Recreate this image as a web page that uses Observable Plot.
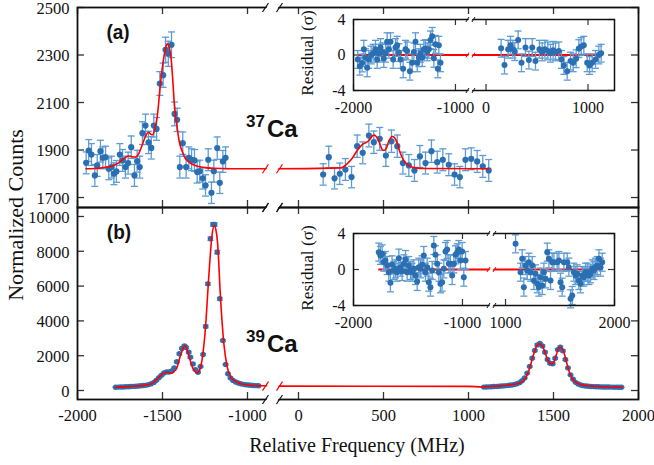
<!DOCTYPE html>
<html><head><meta charset="utf-8">
<script src="https://cdn.jsdelivr.net/npm/d3@7"></script>
<script src="https://cdn.jsdelivr.net/npm/@observablehq/plot@0.6"></script>
<style>
html,body{margin:0;padding:0;background:#fff;}
#chart{position:relative;width:654px;height:465px;overflow:hidden;background:#fff;}
#chart svg{position:absolute;left:0;top:0;}
.lab{position:absolute;white-space:nowrap;line-height:1;color:#111;}
</style></head><body><div id="chart"></div>
<script>
const W = 654, H = 465;

// ---------------- data ----------------
const xTickValues = [-2000, -1500, -1000, 0, 500, 1000, 1500, 2000];
const yTicksA = [1700, 1900, 2100, 2300, 2500];
const yTicksB = [0, 2000, 4000, 6000, 8000, 10000];
const insetATicks = [-2000, -1000, 0, 1000];
const insetBTicks = [-2000, -1000, 1000, 2000];
const residTicks = [-4, 0, 4];

// 37Ca spectrum (MHz, normalized counts, error)
const ca37Freq = [-1949,-1934,-1918,-1898,-1884,-1865,-1851,-1835,-1816,-1800,-1786,-1771,-1751,-1735,-1718,-1702,-1684,-1665,-1649,-1634,-1618,-1600,-1582,-1566,-1551,-1535,-1516,-1496,-1482,-1466,-1447,-1429,-1414,-1398,-1381,-1361,-1345,-1329,-1312,-1296,-1281,-1263,-1247,-1231,-1212,-1198,-1178,-1163,-1145,-1129,
  145,178,212,243,276,312,345,378,414,443,478,514,547,581,614,649,682,714,747,782,816,849,884,918,949,982,1016,1051,1084,1119];
const ca37Counts = [1846,1898,1881,1793,1835,1895,1867,1870,1821,1828,1800,1810,1881,1856,1828,1845,1912,1793,1853,1828,1971,2003,1932,1909,2003,1989,2180,2215,2322,2305,2343,2052,2027,1828,1929,1828,1867,1859,1856,1807,1811,1781,1751,1859,1720,1811,1908,1762,1852,1867,
  1797,1870,1781,1800,1818,1786,1916,1888,1961,1933,1947,1877,1937,1916,1845,1835,1814,1873,1845,1895,1849,1859,1838,1797,1786,1859,1863,1852,1831,1814];
const ca37Err = [46,46,46,46,46,46,46,46,46,46,46,46,46,46,46,46,47,46,46,46,48,48,47,47,48,48,50,51,53,53,54,50,49,46,47,46,46,46,46,46,46,45,45,46,45,46,47,45,46,46,
  45,46,45,45,46,45,47,46,48,47,48,46,47,47,46,46,46,46,46,47,46,46,46,45,45,46,46,46,46,46];
const ca37FitFreq = [-1950,-1900,-1850,-1800,-1760,-1730,-1700,-1680,-1660,-1640,-1620,-1600,-1582,-1568,-1558,-1545,-1531,-1512,-1492,-1478,-1470,-1460,-1450,-1440,-1430,-1414,-1400,-1384,-1370,-1355,-1330,-1300,-1250,-1200,-1100,-900,-150,250,290,316,345,375,400,414,443,460,475,490,502,515,530,551,565,580,595,616,643,680,750,1119];
const ca37FitCounts = [1821,1822,1826,1832,1845,1862,1875,1872,1870,1885,1920,1958,1975,1966,1964,1990,2040,2180,2291,2340,2347,2330,2290,2200,2090,1996,1930,1895,1870,1856,1842,1833,1826,1823,1821,1821,1821,1825,1845,1865,1898,1923,1932,1940,1963,1955,1933,1905,1898,1905,1935,1957,1952,1930,1895,1860,1838,1826,1822,1821];

// 39Ca spectrum
const ca39Freq = [-1776,-1761,-1746,-1731,-1716,-1701,-1686,-1671,-1656,-1641,-1626,-1611,-1596,-1581,-1566,-1551,-1536,-1521,-1506,-1491,-1476,-1461,-1446,-1431,-1416,-1401,-1386,-1371,-1361,-1346,-1336,-1321,-1306,-1291,-1276,-1261,-1246,-1233,-1218,-1203,-1193,-1178,-1163,-1145,-1129,-1115,-1100,-1085,-1070,-1055,-1040,-1025,-1010,-995,-980,-965,-950,-935,
  1090,1105,1120,1135,1150,1165,1180,1195,1210,1225,1240,1255,1270,1285,1300,1315,1330,1345,1360,1375,1390,1405,1420,1435,1450,1465,1480,1495,1510,1525,1540,1555,1570,1585,1600,1615,1630,1645,1660,1675,1690,1705,1720,1735,1750,1765,1780,1795,1810,1825,1840,1855,1870,1885,1900];
const ca39Counts = [190,195,200,205,212,220,228,238,248,260,272,288,308,338,385,465,590,740,880,1010,1070,1060,1120,1300,1650,2110,2420,2560,2470,2200,1915,1530,1200,1050,1380,2069,3680,6130,8720,9540,9540,7950,5270,2870,1495,960,720,580,490,430,385,355,330,312,300,290,283,277,
  195,203,210,218,226,235,245,256,268,282,298,318,345,385,450,560,720,1000,1380,1850,2300,2620,2700,2560,2200,1780,1560,1540,1850,2350,2490,2280,1780,1300,900,650,470,370,315,280,258,243,232,224,218,213,208,204,201,198,196,194,192,191,190];
const ca39Err = [25,25,25,25,25,25,25,25,25,25,25,25,25,25,25,25,40,40,40,40,40,40,40,40,55,55,55,55,55,55,55,55,40,40,40,55,80,80,100,100,100,100,80,55,40,40,40,40,25,25,25,25,25,25,25,25,25,25,
  25,25,25,25,25,25,25,25,25,25,25,25,25,25,25,40,40,40,40,55,55,55,55,55,55,55,55,55,55,55,55,55,55,40,40,40,25,25,25,25,25,25,25,25,25,25,25,25,25,25,25,25,25,25,25];
const ca39FitFreq = [-1776,-1700,-1650,-1600,-1570,-1550,-1531,-1510,-1492,-1474,-1458,-1446,-1432,-1414,-1398,-1384,-1370,-1358,-1345,-1330,-1316,-1298,-1284,-1272,-1260,-1247,-1228,-1210,-1196,-1186,-1176,-1159,-1139,-1119,-1100,-1085,-1060,-1041,-1000,-953,-880,-150,1000,1081,1208,1287,1325,1355,1384,1400,1414,1433,1448,1463,1478,1492,1503,1512,1525,1537,1549,1561,1575,1590,1605,1620,1640,1659,1700,1757,1904];
const ca39FitCounts = [190,222,256,310,378,470,670,870,1000,1052,1010,990,1090,1340,1900,2300,2586,2420,2011,1500,1190,1015,1120,1500,2300,3638,6512,8810,9483,9250,8500,5362,2684,1340,800,620,480,390,320,287,262,250,240,205,287,385,575,1150,2107,2550,2682,2586,2250,1820,1580,1532,1650,1915,2300,2490,2420,2203,1700,1150,780,575,420,345,270,230,190];

// residuals (sigma)
const resA_Freq = [-1958,-1938,-1915,-1899,-1882,-1866,-1850,-1827,-1807,-1784,-1768,-1752,-1735,-1719,-1703,-1686,-1670,-1653,-1637,-1611,-1588,-1572,-1555,-1539,-1513,-1490,-1474,-1447,-1425,-1408,-1392,-1375,-1359,-1343,-1326,-1310,-1294,-1277,-1261,-1245,-1228,-1212,-1196,-1173,-1163,-1147,
  148,181,217,240,263,282,315,348,387,420,453,485,524,551,577,606,632,658,681,714,740,763,796,829,855,884,910,933,959,992,1015,1041,1074,1106,1129];
const resA_Sigma = [-0.5,-1.26,-0.9,0.65,-0.3,-1.45,-0.5,0,0.2,0.65,-0.5,0.2,0.84,0.35,-0.4,0.2,1.5,0.65,1.5,-0.5,0.84,1.1,0.27,-0.5,-1.56,0.65,0.46,-1.83,-0.88,0.35,1.5,-0.88,-0.3,0.2,-0.3,0.65,0.72,0.35,0.65,1.7,2.1,-0.38,1.2,-1.56,1.1,-0.88,
  0.76,-1.14,0.65,1.1,0.65,0.38,1.7,-0.88,0.84,-0.57,0.84,-0.69,0.65,0.35,0.65,0.46,0.2,0.53,0.35,0.46,-0.5,-1.18,-1.83,-0.69,-0.88,-0.42,0.72,0.95,1.1,-0.88,-1.18,-0.88,-0.5,0,0.2];
const resB_Freq = [-1768,-1753,-1737,-1722,-1707,-1691,-1676,-1661,-1646,-1630,-1615,-1600,-1584,-1569,-1554,-1538,-1523,-1508,-1493,-1477,-1462,-1447,-1431,-1416,-1401,-1385,-1370,-1355,-1340,-1324,-1309,-1294,-1278,-1263,-1248,-1232,-1217,-1202,-1187,-1171,-1156,-1141,-1125,-1110,-1095,-1079,-1064,-1049,-1034,-1018,-1003,-988,-972,
  1092,1138,1153,1168,1184,1199,1214,1230,1245,1260,1275,1291,1306,1321,1337,1352,1367,1383,1398,1413,1428,1444,1474,1490,1505,1520,1536,1566,1581,1597,1612,1627,1643,1658,1673,1688,1704,1719,1734,1750,1765,1780,1796,1811,1826,1841,1857,1872,1887];
const resB_Sigma = [1.93,1.56,1.74,0.81,1.0,0.44,-0.3,-1.48,0.52,-0.11,0.07,-0.3,1.26,0.26,-0.22,0.63,1.11,-0.3,0.44,-0.11,-0.3,0.07,-0.67,-1.33,0.26,0.07,0.52,1.56,-0.3,0.26,-1.41,-1.96,-0.11,2.67,1.63,0.63,-0.3,-1.59,-1.41,0.07,2.0,2.22,0.63,0.63,-0.67,0.63,1.63,1.85,2.22,1.0,2.0,-0.85,1.0,
  2.85,-0.3,1.19,-1.96,0.44,-0.11,0.81,-0.3,0.44,-1.22,-0.48,-1.59,-1.96,-0.85,-1.78,-0.3,-1.04,1.93,1.19,-1.22,0.81,0.81,0.81,1.0,-1.41,-1.96,0.81,0.81,0.26,-3.26,-2.89,-0.3,-0.67,-0.48,-1.22,-1.59,-0.67,-0.85,-0.3,-0.3,-0.67,-0.48,0.07,-0.11,0.26,0.44,1.19,0.26,0.81];
const residErr = 1;

// ---------------- styling ----------------
const dotColor = "#2b6fb3", errColor = "#5e9bd3", fitColor = "#ff0000";
const axisColor = "#111", tickColor = "#333";
const serif = "'Liberation Serif', 'Times New Roman', Times, serif";
const sans = "'Liberation Sans', Arial, Helvetica, sans-serif";

// broken-axis mappings (real MHz -> display coordinate)
const mainD = f => (f < -500 ? f : f - 700);
const insetAD = f => (f < -500 ? f : f - 700);
const insetBD = f => (f < 0 ? f : f - 1605);
const mainBreak = -853, insetABreak = -853, insetBBreak = -734;

const zip = (xs, ys, es) => xs.map((x, i) => ({f: x, v: ys[i], e: Array.isArray(es) ? es[i] : es}));

function cap(half) { return {draw(c) { c.moveTo(-half, 0); c.lineTo(half, 0); }}; }
function slashes(sep, w, h) { return {draw(c) { for (const s of [-sep, sep]) { c.moveTo(s - w / 2, h / 2); c.lineTo(s + w / 2, -h / 2); } }}; }
function gap(sep, w, h) { return {draw(c) { c.moveTo(-sep - w / 2 + 1.3, h / 2); c.lineTo(-sep + w / 2 + 1.3, -h / 2); c.lineTo(sep + w / 2 - 1.3, -h / 2); c.lineTo(sep - w / 2 - 1.3, h / 2); c.closePath(); }}; }

function breakMarks(bx, anchors, lineYs, sep, w, h, sw) {
  const out = [], g = gap(sep, w, h), s = slashes(sep, w, h);
  for (const a of anchors) {
    out.push(Plot.dot([bx], {x: d => d, frameAnchor: a, symbol: g, fill: "white", stroke: "none"}));
    out.push(Plot.dot([bx], {x: d => d, frameAnchor: a, symbol: s, fill: "none", stroke: axisColor, strokeWidth: sw}));
  }
  for (const yv of lineYs) {
    out.push(Plot.dot([yv], {x: () => bx, y: d => d, symbol: g, fill: "white", stroke: "none"}));
    out.push(Plot.dot([yv], {x: () => bx, y: d => d, symbol: s, fill: "none", stroke: fitColor, strokeWidth: sw}));
  }
  return out;
}

function frameTicks(xTicks, yTicks, xDom, yDom, pxW, pxH, L, sw) {
  const lx = (xDom[1] - xDom[0]) * L / pxW, ly = (yDom[1] - yDom[0]) * L / pxH;
  const o = {stroke: tickColor, strokeWidth: sw};
  return [
    Plot.ruleX(xTicks, {x: d => d, y1: yDom[0], y2: yDom[0] + ly, ...o}),
    Plot.ruleX(xTicks, {x: d => d, y1: yDom[1] - ly, y2: yDom[1], ...o}),
    Plot.ruleY(yTicks, {y: d => d, x1: xDom[0], x2: xDom[0] + lx, ...o}),
    Plot.ruleY(yTicks, {y: d => d, x1: xDom[1] - lx, x2: xDom[1], ...o})
  ];
}

function dataMarks(rows, xf, r, capHalf, errW) {
  return [
    Plot.ruleX(rows, {x: d => xf(d.f), y1: d => d.v - d.e, y2: d => d.v + d.e, stroke: errColor, strokeWidth: errW}),
    Plot.dot(rows, {x: d => xf(d.f), y: d => d.v + d.e, symbol: cap(capHalf), fill: "none", stroke: errColor, strokeWidth: errW}),
    Plot.dot(rows, {x: d => xf(d.f), y: d => d.v - d.e, symbol: cap(capHalf), fill: "none", stroke: errColor, strokeWidth: errW}),
    Plot.dot(rows, {x: d => xf(d.f), y: "v", r, fill: dotColor, stroke: "none"})
  ];
}

const baseStyle = {position: "absolute", left: "0px", top: "0px", background: "transparent", overflow: "visible"};

function mainPanel({top, bottom, yDom, yTicks, rows, fit, fitBreakY, r, capHalf, xLabels}) {
  const left = 77, right = 638, xDom = [-2000, 1300];
  const marks = [
    ...frameTicks(xTickValues.map(mainD), yTicks, xDom, yDom, right - left, bottom - top, 7, 1.3),
    ...dataMarks(rows, mainD, r, capHalf, 1.3),
    Plot.line(fit, {x: d => mainD(d.f), y: "v", stroke: fitColor, strokeWidth: 1.6, curve: "monotone-x"}),
    Plot.frame({stroke: axisColor, strokeWidth: 1.8}),
    ...breakMarks(mainBreak, ["top", "bottom"], [fitBreakY], 7, 6, 9, 1.2),
    Plot.text(yTicks, {y: d => d, frameAnchor: "left", dx: -8, dy: 1, textAnchor: "end", text: d => String(d), fontSize: 16.5, fontFamily: serif, fill: axisColor})
  ];
  if (xLabels) marks.push(Plot.text(xTickValues, {x: d => mainD(d), frameAnchor: "bottom", dy: 21, text: d => String(d), fontSize: 16.5, fontFamily: serif, fill: axisColor}));
  return Plot.plot({
    width: W, height: H, marginLeft: left, marginRight: W - right, marginTop: top, marginBottom: H - bottom,
    x: {domain: xDom, axis: null}, y: {domain: yDom, axis: null},
    style: baseStyle, marks
  });
}

function insetPanel({top, bottom, xDom, dFn, xTicks, brk, rows, lineFrom, lineTo}) {
  const left = 353, right = 614, yDom = [-4, 4];
  const marks = [
    Plot.frame({fill: "white", stroke: "none"}),
    ...frameTicks(xTicks.map(dFn), residTicks, xDom, yDom, right - left, bottom - top, 6, 1.2),
    Plot.ruleY([0], {x1: dFn(lineFrom), x2: dFn(lineTo), stroke: fitColor, strokeWidth: 2}),
    ...dataMarks(rows, dFn, 3, 3.5, 1.3),
    Plot.frame({stroke: axisColor, strokeWidth: 1.5}),
    ...breakMarks(brk, ["top", "bottom"], [0], 3, 3, 5, 1),
    Plot.text(residTicks, {y: d => d, frameAnchor: "left", dx: -8, textAnchor: "end", text: d => String(d), fontSize: 16, fontFamily: serif, fill: axisColor}),
    Plot.text(xTicks, {x: d => dFn(d), frameAnchor: "bottom", dy: 22.5, text: d => String(d), fontSize: 16, fontFamily: serif, fill: axisColor})
  ];
  return Plot.plot({
    width: W, height: H, marginLeft: left, marginRight: W - right, marginTop: top, marginBottom: H - bottom,
    x: {domain: xDom, axis: null}, y: {domain: yDom, axis: null},
    style: baseStyle, marks
  });
}

const chart = document.getElementById("chart");

chart.appendChild(mainPanel({top: 207, bottom: 399, yDom: [-517, 10517], yTicks: yTicksB,
  rows: zip(ca39Freq, ca39Counts, ca39Err), fit: zip(ca39FitFreq, ca39FitCounts, 0), fitBreakY: 251,
  r: 2.7, capHalf: 3, xLabels: true}));
chart.appendChild(mainPanel({top: 7, bottom: 207, yDom: [1658, 2500], yTicks: yTicksA,
  rows: zip(ca37Freq, ca37Counts, ca37Err), fit: zip(ca37FitFreq, ca37FitCounts, 0), fitBreakY: 1821,
  r: 3.1, capHalf: 3.5, xLabels: false}));
chart.appendChild(insetPanel({top: 19, bottom: 90, xDom: [-2000, 560], dFn: insetAD, xTicks: insetATicks, brk: insetABreak,
  rows: zip(resA_Freq, resA_Sigma, residErr), lineFrom: -1958, lineTo: 1129}));
chart.appendChild(insetPanel({top: 233, bottom: 305, xDom: [-2000, 395], dFn: insetBD, xTicks: insetBTicks, brk: insetBBreak,
  rows: zip(resB_Freq, resB_Sigma, residErr), lineFrom: -1768, lineTo: 1887}));

function addLabel(text, css) {
  const el = document.createElement("div");
  el.className = "lab";
  el.textContent = text;
  Object.assign(el.style, css);
  chart.appendChild(el);
  return el;
}
addLabel("(a)", {left: "118px", top: "32px", transform: "translate(-50%,-50%) scaleY(1.08)", fontFamily: sans, fontWeight: "bold", fontSize: "19px"});
addLabel("(b)", {left: "119px", top: "232px", transform: "translate(-50%,-50%) scaleY(1.08)", fontFamily: sans, fontWeight: "bold", fontSize: "19px"});
addLabel("37", {left: "246px", top: "112.6px", fontFamily: sans, fontWeight: "bold", fontSize: "17px"});
addLabel("Ca", {left: "267px", top: "116.7px", fontFamily: sans, fontWeight: "bold", fontSize: "24px"});
addLabel("39", {left: "246px", top: "327.6px", fontFamily: sans, fontWeight: "bold", fontSize: "17px"});
addLabel("Ca", {left: "267px", top: "331.7px", fontFamily: sans, fontWeight: "bold", fontSize: "24px"});
addLabel("Normalized Counts", {left: "16px", top: "215px", transform: "translate(-50%,-50%) rotate(-90deg) scaleX(1.1)", fontFamily: serif, fontSize: "20px"});
addLabel("Relative Frequency (MHz)", {left: "357px", top: "444px", transform: "translate(-50%,-50%) scaleY(1.1)", fontFamily: serif, fontSize: "20px"});
addLabel("Residual (σ)", {left: "308px", top: "53px", transform: "translate(-50%,-50%) rotate(-90deg) scaleX(1.08)", fontFamily: serif, fontSize: "16px"});
addLabel("Residual (σ)", {left: "308px", top: "268px", transform: "translate(-50%,-50%) rotate(-90deg) scaleX(1.08)", fontFamily: serif, fontSize: "16px"});
</script></body></html>
